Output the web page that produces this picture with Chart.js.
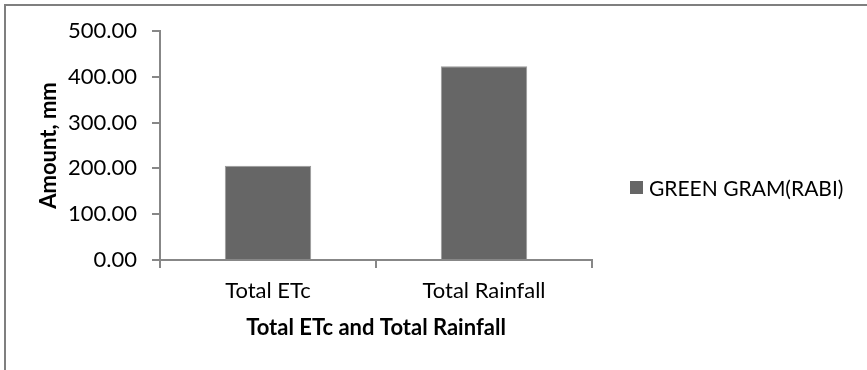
<!DOCTYPE html>
<html>
<head>
<meta charset="utf-8">
<script src="https://cdn.jsdelivr.net/npm/chart.js@4.4.1/dist/chart.umd.min.js"></script>
<style>
  html, body { margin: 0; padding: 0; background: #ffffff; }
  #wrap { position: relative; width: 867px; height: 370px; overflow: hidden; background: #ffffff; }
  #frame { position: absolute; left: 4px; top: 4px; width: 900px; height: 400px;
           border-top: 2px solid #7f7f7f; border-left: 2px solid #7f7f7f; box-sizing: border-box; }
  canvas { position: absolute; left: 0; top: 0; }
  #legend { position: absolute; left: 630px; top: 174px; height: 26px; display: flex; align-items: center;
            font-family: Lato, "Open Sans", sans-serif; font-size: 21px; color: #000; white-space: nowrap; }
  #legend .sw { display: inline-block; width: 13px; height: 13px; margin-right: 6px; }
</style>
</head>
<body>
<div id="wrap">
  <div id="frame"></div>
  <canvas id="chart" width="867" height="370"></canvas>
  <div id="legend"></div>
</div>
<script>
// Seasonal water balance for green gram (rabi season)
const categories = ['Total ETc', 'Total Rainfall'];
const seriesName = 'GREEN GRAM(RABI)';
const amounts = [205.9, 423.3];
const yTicks = [0, 100, 200, 300, 400, 500];

const FONT = 'Lato, "Open Sans", sans-serif';
const AXIS_GREY = '#878787';

const chart = new Chart(document.getElementById('chart'), {
  type: 'bar',
  data: {
    labels: categories,
    datasets: [{
      label: seriesName,
      data: amounts,
      backgroundColor: '#666666',
      borderColor: '#9a9a9a',
      borderWidth: 1,
      categoryPercentage: 1.0,
      barPercentage: 0.4
    }]
  },
  options: {
    responsive: false,
    devicePixelRatio: 1,
    animation: false,
    layout: { padding: { left: 30, right: 275, top: 31, bottom: 0 } },
    plugins: { legend: { display: false }, tooltip: { enabled: false } },
    scales: {
      x: {
        grid: { display: true, drawOnChartArea: false, drawTicks: true, tickLength: 8,
                color: AXIS_GREY, lineWidth: 2, offset: true },
        border: { display: true, color: AXIS_GREY, width: 2 },
        ticks: { color: '#000', padding: 10, font: { family: FONT, size: 22 } },
        title: { display: true, text: 'Total ETc and Total Rainfall', color: '#000',
                 font: { family: FONT, size: 22, weight: 'bold' }, padding: { top: 4, bottom: 29 } },
        afterFit: (s) => { s.height = 110; }
      },
      y: {
        min: 0, max: 500,
        grid: { display: true, drawOnChartArea: false, drawTicks: true, tickLength: 8,
                color: AXIS_GREY, lineWidth: 2 },
        border: { display: true, color: AXIS_GREY, width: 2 },
        afterBuildTicks: (s) => { s.ticks = yTicks.map(v => ({ value: v })); },
        ticks: { color: '#000', padding: 15, font: { family: FONT, size: 22 },
                 callback: (v) => Number(v).toFixed(2) },
        title: { display: true, text: 'Amount, mm', color: '#000',
                 font: { family: FONT, size: 22, weight: 'bold' }, padding: { top: 6, bottom: 0 } },
        afterFit: (s) => { s.width = 130; }
      }
    }
  }
});

// Legend built from the chart's own dataset
const legendEl = document.getElementById('legend');
chart.data.datasets.forEach(ds => {
  const sw = document.createElement('span');
  sw.className = 'sw';
  sw.style.background = ds.backgroundColor;
  const tx = document.createElement('span');
  tx.textContent = ds.label;
  legendEl.appendChild(sw);
  legendEl.appendChild(tx);
});
</script>
</body>
</html>
